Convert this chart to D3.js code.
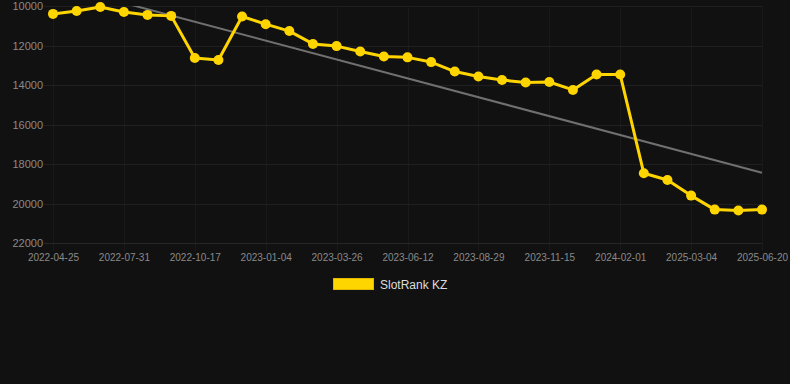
<!DOCTYPE html>
<html>
<head>
<meta charset="utf-8">
<script src="https://cdn.jsdelivr.net/npm/d3@7"></script>
<style>
  html, body { margin: 0; padding: 0; background: #111111; }
  svg { display: block; }
  text { font-family: "Liberation Sans", Arial, Helvetica, sans-serif; }
</style>
</head>
<body>
<svg id="chart" width="790" height="384"></svg>
<script>
// ---- data ----
const dates = [
  "2022-04-25","2022-05-27","2022-06-29","2022-07-31","2022-08-26","2022-09-21",
  "2022-10-17","2022-11-12","2022-12-09","2023-01-04","2023-01-31","2023-02-28",
  "2023-03-26","2023-04-21","2023-05-17","2023-06-12","2023-07-08","2023-08-03",
  "2023-08-29","2023-09-24","2023-10-20","2023-11-15","2023-12-11","2024-01-06",
  "2024-02-01","2024-06-15","2024-10-20","2025-03-04","2025-04-08","2025-05-15",
  "2025-06-20"
];
const ranks = [
  10400, 10250, 10050, 10300, 10450, 10500,
  12630, 12730, 10530, 10920, 11270, 11920,
  12030, 12300, 12560, 12600, 12840, 13320,
  13570, 13750, 13870, 13850, 14250, 13470,
  13470, 18470, 18810, 19600, 20310, 20350,
  20310
];
const trendValues = [8890, 18440];
const yTicks = [10000, 12000, 14000, 16000, 18000, 20000, 22000];
const seriesName = "SlotRank KZ";

// ---- layout ----
const svg = d3.select("#chart");
const pLeft = 53, pRight = 762, pTop = 6, pBottom = 243;

const x = d3.scalePoint().domain(dates).range([pLeft, pRight]);
const y = d3.scaleLinear().domain([10000, 22000]).range([pTop, pBottom]);

svg.append("rect").attr("width", 790).attr("height", 384).attr("fill", "#111111");

svg.append("defs").append("clipPath").attr("id", "plotclip")
  .append("rect").attr("x", pLeft - 10).attr("y", pTop).attr("width", pRight - pLeft + 20).attr("height", pBottom - pTop);

const shownDates = dates.filter((d, i) => i % 3 === 0);

// vertical grid (+ small tick marks below axis)
svg.append("g").selectAll("line").data(shownDates).join("line")
  .attr("x1", d => Math.round(x(d)) + 0.5).attr("x2", d => Math.round(x(d)) + 0.5)
  .attr("y1", pTop).attr("y2", pBottom + 8)
  .attr("stroke", "#191919").attr("stroke-width", 1);

// horizontal grid
svg.append("g").selectAll("line").data(yTicks).join("line")
  .attr("x1", pLeft - 9).attr("x2", pRight)
  .attr("y1", d => Math.round(y(d)) + 0.5).attr("y2", d => Math.round(y(d)) + 0.5)
  .attr("stroke", d => d === 22000 ? "#262626" : "#1f1f1f").attr("stroke-width", 1);

// y axis labels
const yAxis = d3.axisLeft(y).tickValues(yTicks).tickSize(0).tickPadding(10).tickFormat(d3.format("d"));
const gy = svg.append("g").attr("transform", `translate(${pLeft},0)`).call(yAxis);
gy.select(".domain").remove();
gy.selectAll("text").attr("fill", "#8a8a8a").style("font-size", "11px")
  .style("font-family", '"Liberation Sans", Arial, sans-serif');

// x axis labels
const xAxis = d3.axisBottom(x).tickValues(shownDates).tickSize(0).tickPadding(11);
const gx = svg.append("g").attr("transform", `translate(0,${pBottom})`).call(xAxis);
gx.select(".domain").remove();
gx.selectAll("text").attr("fill", "#8a8a8a").style("font-size", "10px")
  .style("font-family", '"Liberation Sans", Arial, sans-serif');

// trend line
const plot = svg.append("g").attr("clip-path", "url(#plotclip)");
plot.append("line")
  .attr("x1", x(dates[0])).attr("y1", y(trendValues[0]))
  .attr("x2", x(dates[dates.length - 1])).attr("y2", y(trendValues[1]))
  .attr("stroke", "#707070").attr("stroke-width", 2);

// series line
const line = d3.line().x((d, i) => x(dates[i])).y(d => y(d));
svg.append("path").datum(ranks)
  .attr("d", line).attr("fill", "none")
  .attr("stroke", "#FFD500").attr("stroke-width", 3).attr("stroke-linejoin", "round");

svg.append("g").selectAll("circle").data(ranks).join("circle")
  .attr("cx", (d, i) => x(dates[i])).attr("cy", d => y(d)).attr("r", 5)
  .attr("fill", "#FFD500");

// legend
const lg = svg.append("g");
lg.append("rect").attr("x", 333.5).attr("y", 278.5).attr("width", 40).attr("height", 11)
  .attr("fill", "#FFD500").attr("stroke", "#e0b800").attr("stroke-width", 1);
lg.append("text").attr("x", 380).attr("y", 288.5).text(seriesName)
  .attr("fill", "#dddddd").style("font-size", "12px");
</script>
</body>
</html>
